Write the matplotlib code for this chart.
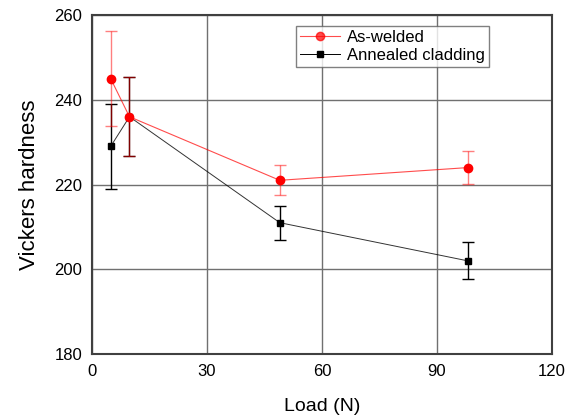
import matplotlib
matplotlib.use('Agg')
import matplotlib.pyplot as plt
from matplotlib.lines import Line2D

plt.rcParams['font.family'] = ['Liberation Sans', 'DejaVu Sans']

# data
load = [4.9, 9.8, 49, 98]
hv_welded = [245, 236, 221, 224]
err_welded = [11.3, 9.3, 3.5, 3.8]
hv_annealed = [229, 236, 211, 202]
err_annealed = [10, 9.3, 4, 4.4]

fig = plt.figure(figsize=(5.78, 4.18), dpi=100)
ax = fig.add_axes([0.159, 0.153, 0.796, 0.811])

# annealed
ax.errorbar(load, hv_annealed, yerr=err_annealed, fmt='none', ecolor='black',
            elinewidth=1.0, capsize=4, capthick=1.0, zorder=3)
ax.plot(load, hv_annealed, color='black', lw=0.7, alpha=0.8, zorder=3)
ax.plot(load, hv_annealed, 's', color='black', ms=5, zorder=3)

# as-welded (semi-transparent lines, like the original)
ax.errorbar(load, hv_welded, yerr=err_welded, fmt='none', ecolor='red',
            alpha=0.5, elinewidth=1.0, capsize=4, capthick=1.0, zorder=4)
ax.plot(load, hv_welded, color='red', lw=0.8, alpha=0.7, zorder=4)
ax.plot(load, hv_welded, 'o', color='red', ms=6, zorder=5)

ax.set_xlim(0, 120)
ax.set_ylim(180, 260)
ax.set_xticks([0, 30, 60, 90, 120])
ax.set_yticks([180, 200, 220, 240, 260])
ax.grid(True, color='#707070', lw=1.0)
ax.set_axisbelow(True)
ax.tick_params(length=0, labelsize=12, pad=7)
for s in ax.spines.values():
    s.set_color('#404040')
    s.set_linewidth(1.5)

ax.set_xlabel('Load (N)', fontsize=14, labelpad=14)
ax.set_ylabel('Vickers hardness', fontsize=16, labelpad=10)

handles = [
    Line2D([], [], color='red', lw=0.8, alpha=0.7, marker='o', ms=6,
           mfc='red', mec='red'),
    Line2D([], [], color='black', lw=0.7, marker='s', ms=5),
]
leg = ax.legend(handles, ['As-welded', 'Annealed cladding'], loc='upper left',
                bbox_to_anchor=(0.443, 0.968), fontsize=12, frameon=True,
                fancybox=False, borderpad=0.25, labelspacing=0.15,
                handlelength=2.4, handletextpad=0.4, borderaxespad=0)
leg.get_frame().set_edgecolor('#606060')
leg.get_frame().set_linewidth(1.0)

plt.savefig('out.png', dpi=100)
